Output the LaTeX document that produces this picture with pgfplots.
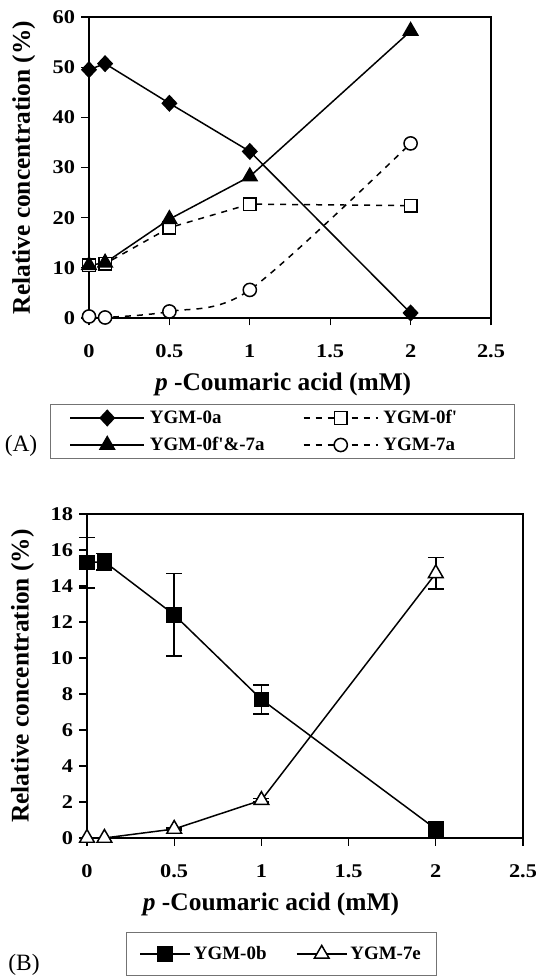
\documentclass[border=0pt]{standalone}
\usepackage{fontspec}
\setmainfont{Liberation Serif}
\newfontfamily\tickfont[FakeStretch=1.15]{Liberation Serif}
\usepackage{pgfplots}
\pgfplotsset{compat=1.18}
\pgfplotsset{
  common/.style={
    scale only axis, clip=false,
    xmin=0, xmax=2.5,
    xtick={0,0.5,1,1.5,2,2.5},
    xtick pos=left, ytick pos=left,
    tick align=outside, major tick length=7.5bp,
    tick style={black, line width=1.3pt},
    axis line style={line width=1.5pt},
    /pgf/number format/assume math mode=true,
    ticklabel style={font=\tickfont\bfseries\fontsize{19.5}{21}\selectfont},
    xticklabel style={yshift=-16bp},
    yticklabel style={xshift=-3bp},
    label style={font=\bfseries\fontsize{25.5}{28}\selectfont},
    every axis plot/.append style={line width=1.5pt, black},
    legend style={font=\bfseries\fontsize{19}{21}\selectfont, draw=black!55, line width=1pt,
      nodes={inner sep=0pt, text height=14bp, text depth=3bp}},
    legend cell align=left,
  },
  limg/.style={legend image code/.code={
    \draw[mark repeat=2,mark phase=2] plot coordinates {(0bp,0bp) (#1bp,0bp) (2*#1bp,0bp)};}},
}
\newcommand\lbox[2]{\makebox[#1bp][l]{#2}}
\begin{document}
\begin{tikzpicture}
\useasboundingbox (0,0) rectangle (536bp,976bp);
% ---------------- Panel A ----------------
\begin{axis}[common, at={(89bp,658bp)}, anchor=south west,
  width=402bp, height=301bp,
  ymin=0, ymax=60, ytick={0,10,...,60},
  xlabel={\textbf{\textit{p}} -Coumaric acid (mM)},
  ylabel={Relative concentration (\%)},
  xlabel style={at={(axis description cs:0.483,-0.22)}, anchor=center},
  ylabel style={at={(axis description cs:-0.162,0.5)}, anchor=center},
  limg=37,
  legend columns=2,
  legend style={at={(axis description cs:-0.097,-0.2857)}, anchor=north west,
    inner xsep=19bp, inner ysep=5bp, row sep=10bp,
    /tikz/every odd column/.append style={column sep=5bp}},
]
\addplot[mark=diamond*, mark size=7.5bp, mark options={xscale=1.25}] coordinates {(0,49.5) (0.1,50.7) (0.5,42.8) (1,33.2) (2,1.0)};
\addlegendentry{\lbox{153}{YGM-0a}}
\addplot[dash pattern=on 6bp off 6bp, mark=square*, mark size=6.3bp, mark options={solid, fill=white}] coordinates {(0,10.5) (0.1,10.8) (0.5,18.0) (1,22.7) (2,22.4)};
\addlegendentry{\lbox{112}{YGM-0f\textquotesingle}}
\addplot[mark=triangle*, mark size=8.3bp] coordinates {(0,10.5) (0.1,11.0) (0.5,19.7) (1,28.2) (2,57.2)};
\addlegendentry{\lbox{153}{YGM-0f\textquotesingle\&-7a}}
\addplot[smooth, dash pattern=on 6bp off 6bp, mark=*, mark size=6.6bp, mark options={solid, fill=white}] coordinates {(0,0.3) (0.1,0.1) (0.5,1.3) (1,5.6) (2,34.8)};
\addlegendentry{\lbox{112}{YGM-7a}}
\end{axis}
\node[font=\fontsize{23.5}{25}\selectfont] at (21bp,530bp) {(A)};
% ---------------- Panel B ----------------
\begin{axis}[common, at={(87bp,138bp)}, anchor=south west,
  width=436bp, height=324bp,
  ymin=0, ymax=18, ytick={0,2,...,18},
  xlabel={\textbf{\textit{p}} -Coumaric acid (mM)},
  ylabel={Relative concentration (\%)},
  xlabel style={at={(axis description cs:0.422,-0.205)}, anchor=center},
  ylabel style={at={(axis description cs:-0.148,0.5)}, anchor=center},
  limg=25,
  legend columns=2,
  legend style={at={(axis description cs:0.0894,-0.290)}, anchor=north west,
    inner xsep=13bp, inner ysep=13bp,
    /tikz/every odd column/.append style={column sep=3bp}},
  error bars/error bar style={line width=1.5pt, solid},
  error bars/error mark options={rotate=90, mark size=8bp, line width=1.5pt},
]
\addplot[mark=square*, mark size=7bp, error bars/.cd, y dir=both, y explicit] coordinates {
  (0,15.3) +- (0,1.4)
  (0.1,15.35) +- (0,0.45)
  (0.5,12.4) +- (0,2.3)
  (1,7.7) +- (0,0.8)
  (2,0.5) +- (0,0.1)};
\addlegendentry{\lbox{102}{YGM-0b}}
\addplot[mark=triangle*, mark size=8.5bp, mark options={fill=white}, error bars/.cd, y dir=both, y explicit] coordinates {
  (0,0) +- (0,0)
  (0.1,0) +- (0,0)
  (0.5,0.5) +- (0,0.05)
  (1,2.1) +- (0,0.1)
  (2,14.7) +- (0,0.88)};
\addlegendentry{\lbox{73}{YGM-7e}}
\end{axis}
\node[font=\fontsize{23.5}{25}\selectfont] at (24bp,11bp) {(B)};
\end{tikzpicture}
\end{document}
